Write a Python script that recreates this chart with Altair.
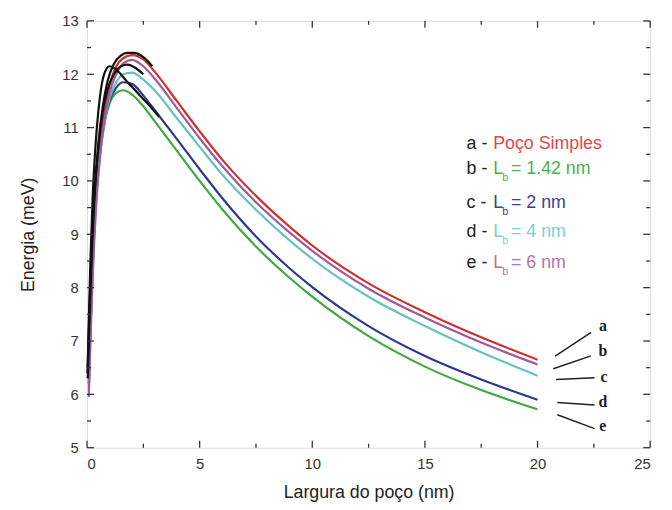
import altair as alt
import pandas as pd

# ---- data ----
x_pts = [0.08, 0.15, 0.25, 0.4, 0.6, 0.8, 1.0, 1.3, 1.6, 2.0, 2.5, 3.0, 4.0, 5.0,
         6.0, 7.5, 9.0, 10.0, 12.5, 15.0, 17.5, 20.0]
curve_a = [6.2, 7.2, 8.4, 9.7, 10.7, 11.35, 11.8, 12.15, 12.3, 12.36, 12.28, 12.05, 11.49, 10.93,
           10.40, 9.72, 9.14, 8.79, 8.08, 7.54, 7.07, 6.65]
curve_e = [5.95, 7.0, 8.2, 9.5, 10.55, 11.2, 11.65, 12.0, 12.2, 12.27, 12.15, 11.92, 11.36, 10.80,
           10.28, 9.60, 9.03, 8.69, 7.98, 7.44, 6.97, 6.56]
curve_d = [6.1, 7.1, 8.3, 9.6, 10.55, 11.15, 11.55, 11.85, 12.0, 12.03, 11.9, 11.70, 11.17, 10.64,
           10.12, 9.46, 8.88, 8.54, 7.83, 7.28, 6.79, 6.35]
curve_c = [6.2, 7.2, 8.4, 9.7, 10.6, 11.15, 11.5, 11.75, 11.85, 11.82, 11.6, 11.33, 10.78, 10.22,
           9.68, 8.96, 8.36, 8.01, 7.28, 6.72, 6.28, 5.90]
curve_b = [6.3, 7.3, 8.5, 9.8, 10.65, 11.15, 11.45, 11.65, 11.7, 11.62, 11.4, 11.12, 10.56, 10.00,
           9.47, 8.77, 8.18, 7.83, 7.09, 6.52, 6.08, 5.72]

# black (overlapping) curves near the maximum
k1_x = [0.02, 0.08, 0.15, 0.25, 0.35, 0.5, 0.65, 0.8, 1.0, 1.2, 1.5, 1.8, 2.1, 2.4, 2.8, 3.2]
k1_y = [6.4, 7.4, 8.5, 9.7, 10.5, 11.3, 11.8, 12.05, 12.15, 12.12, 12.0, 11.85, 11.72, 11.58, 11.4, 11.2]
k2_x = [0.03, 0.1, 0.2, 0.35, 0.5, 0.7, 0.9, 1.2, 1.5, 1.8, 2.1, 2.5, 2.9]
k2_y = [6.5, 7.5, 8.7, 9.9, 10.7, 11.4, 11.85, 12.2, 12.35, 12.4, 12.4, 12.32, 12.15]
k3_x = [0.03, 0.1, 0.2, 0.35, 0.5, 0.7, 0.9, 1.2, 1.5, 1.8, 2.1, 2.5]
k3_y = [6.3, 7.3, 8.5, 9.8, 10.6, 11.3, 11.7, 12.0, 12.15, 12.18, 12.13, 12.0]

series_names = ["a", "b", "c", "d", "e"]
series_colors = ["#d0312d", "#3fa845", "#2b3a8c", "#66c2c2", "#a05a9a"]

x_major = [0, 5, 10, 15, 20, 25]
x_minor = [2.5, 7.5, 12.5, 17.5, 22.5]
y_major = [5, 6, 7, 8, 9, 10, 11, 12, 13]
y_minor = [5.5, 6.5, 7.5, 8.5, 9.5, 10.5, 11.5, 12.5]

legend_prefix = ["a -", "b -", "c -", "d -", "e -"]
legend_main = ["Poço Simples", "L", "L", "L", "L"]
legend_rest = ["", "= 1.42 nm", "= 2 nm", "= 4 nm", "= 6 nm"]
legend_colors = ["#e0474c", "#4db04f", "#3a3f8f", "#7ccfcf", "#b873a8"]
legend_x = 16.85
legend_y = [10.685, 10.222, 9.593, 9.037, 8.463]

end_labels = ["a", "b", "c", "d", "e"]
end_x = [22.9, 22.9, 22.95, 22.9, 22.9]
end_y = [7.278, 6.815, 6.315, 5.852, 5.407]
lead_x1 = [20.78, 20.70, 20.82, 20.88, 20.88]
lead_y1 = [6.717, 6.481, 6.278, 5.846, 5.617]
lead_x2 = [22.38, 22.37, 22.53, 22.53, 22.53]
lead_y2 = [7.161, 6.722, 6.309, 5.802, 5.357]

# ---- tables ----
rows = []
for name, vals in zip(series_names, [curve_a, curve_b, curve_c, curve_d, curve_e]):
    for i, (xx, yy) in enumerate(zip(x_pts, vals)):
        rows.append({"x": xx, "y": yy, "s": name, "i": i})
df_lines = pd.DataFrame(rows)

krows = []
for name, xs_, ys_ in [("k1", k1_x, k1_y), ("k2", k2_x, k2_y), ("k3", k3_x, k3_y)]:
    for i, (xx, yy) in enumerate(zip(xs_, ys_)):
        krows.append({"x": xx, "y": yy, "s": name, "i": i})
df_black = pd.DataFrame(krows)

df_leg = pd.DataFrame({"x": [legend_x] * 5, "y": legend_y, "p": legend_prefix,
                       "m": legend_main, "r": legend_rest, "c": legend_colors,
                       "sub": ["", "b", "b", "b", "b"]})
df_end = pd.DataFrame({"x": end_x, "y": end_y, "t": end_labels})
df_lead = pd.DataFrame({"x": lead_x1, "y": lead_y1, "x2": lead_x2, "y2": lead_y2})

xs = alt.Scale(domain=[0, 25], nice=False, zero=False)
ys = alt.Scale(domain=[5, 13], nice=False, zero=False)
FONT = "Liberation Sans"

X = alt.X("x:Q", scale=xs, axis=alt.Axis(values=x_major, ticks=False, domain=False, grid=False,
                                          labelFontSize=15, labelColor="#333", labelPadding=9,
                                          labelFont=FONT, title="Largura do poço (nm)",
                                          titleFont=FONT, titleFontSize=18, titleFontWeight="normal",
                                          titleColor="#222", titlePadding=12))
Y = alt.Y("y:Q", scale=ys, axis=alt.Axis(values=y_major, ticks=False, domain=False, grid=False,
                                          labelFontSize=15, labelColor="#333", labelPadding=9,
                                          labelFont=FONT, title="Energia (meV)",
                                          titleFont=FONT, titleFontSize=18, titleFontWeight="normal",
                                          titleColor="#222", titlePadding=24))

lines = alt.Chart(df_lines).mark_line(strokeWidth=2.2, interpolate="monotone").encode(
    x=X, y=Y,
    color=alt.Color("s:N", scale=alt.Scale(domain=series_names, range=series_colors), legend=None),
    order="i:Q", detail="s:N")

black = alt.Chart(df_black).mark_line(strokeWidth=2.2, color="#111", interpolate="monotone").encode(
    x="x:Q", y="y:Q", detail="s:N", order="i:Q")

# ticks (inside)
tx_maj = pd.DataFrame({"x": x_major})
tx_min = pd.DataFrame({"x": x_minor})
ty_maj = pd.DataFrame({"y": y_major})
ty_min = pd.DataFrame({"y": y_minor})
tick_col = "#333"
ticks = [
    alt.Chart(tx_maj).mark_rule(color=tick_col, strokeWidth=1.3).encode(x="x:Q", y=alt.value(432), y2=alt.value(425)),
    alt.Chart(tx_min).mark_rule(color=tick_col, strokeWidth=1.3).encode(x="x:Q", y=alt.value(432), y2=alt.value(428)),
    alt.Chart(tx_maj).mark_rule(color=tick_col, strokeWidth=1.3).encode(x="x:Q", y=alt.value(0), y2=alt.value(7)),
    alt.Chart(tx_min).mark_rule(color=tick_col, strokeWidth=1.3).encode(x="x:Q", y=alt.value(0), y2=alt.value(4)),
    alt.Chart(ty_maj).mark_rule(color=tick_col, strokeWidth=1.3).encode(y="y:Q", x=alt.value(0), x2=alt.value(7)),
    alt.Chart(ty_min).mark_rule(color=tick_col, strokeWidth=1.3).encode(y="y:Q", x=alt.value(0), x2=alt.value(4)),
    alt.Chart(ty_maj).mark_rule(color=tick_col, strokeWidth=1.3).encode(y="y:Q", x=alt.value(570), x2=alt.value(563)),
    alt.Chart(ty_min).mark_rule(color=tick_col, strokeWidth=1.3).encode(y="y:Q", x=alt.value(570), x2=alt.value(566)),
]

base_leg = alt.Chart(df_leg)
leg_prefix = base_leg.mark_text(align="left", baseline="middle", font=FONT, fontSize=18, color="#222").encode(
    x="x:Q", y="y:Q", text="p:N")
leg_main = base_leg.mark_text(align="left", baseline="middle", font=FONT, fontSize=18, dx=27).encode(
    x="x:Q", y="y:Q", text="m:N", fill=alt.Fill("c:N", scale=None))
leg_sub = base_leg.mark_text(align="left", baseline="middle", font=FONT, fontSize=11, dx=36, dy=9).encode(
    x="x:Q", y="y:Q", text="sub:N", fill=alt.Fill("c:N", scale=None))
leg_rest = base_leg.mark_text(align="left", baseline="middle", font=FONT, fontSize=18, dx=45).encode(
    x="x:Q", y="y:Q", text="r:N", fill=alt.Fill("c:N", scale=None))

end_txt = alt.Chart(df_end).mark_text(align="center", baseline="middle", font="Liberation Serif",
                                       fontSize=16, fontWeight="bold", color="#222").encode(
    x="x:Q", y="y:Q", text="t:N")
leads = alt.Chart(df_lead).mark_rule(color="#222", strokeWidth=1.5).encode(
    x="x:Q", y="y:Q", x2="x2:Q", y2="y2:Q")

chart = alt.layer(lines, black, *ticks, leg_prefix, leg_main, leg_sub, leg_rest, end_txt, leads).properties(
    width=570, height=432,
    autosize=alt.AutoSizeParams(type="none"),
    padding={"left": 80, "top": 10, "right": 14, "bottom": 60},
).configure_view(stroke="#333", strokeWidth=1.5).configure(background="white")

chart.save("out.html", embed_options={"renderer": "svg", "actions": False})
